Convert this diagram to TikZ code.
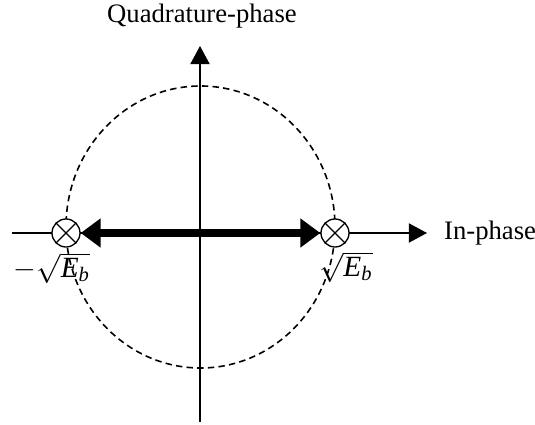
\documentclass[tikz,border=0pt]{standalone}
\usepackage{amsmath}
\usepackage{fontspec}
\setmainfont{Liberation Serif}
\usepackage{tikz}
\usetikzlibrary{arrows.meta,positioning}

\begin{document}
\begin{tikzpicture}[x=0.375pt, y=-0.375pt,
    axis/.style={line width=0.5pt, -{Triangle[length=6.8pt, width=7.2pt]}},
    marker/.style={circle, draw, line width=0.5pt, fill=white, minimum size=10.5pt, inner sep=0pt},
    bigarrow/.style={line width=3pt, {Triangle[length=7.5pt, width=10.5pt]}-{Triangle[length=7.5pt, width=10.5pt]}},
    orbit/.style={line width=0.6pt, dash pattern=on 2.4pt off 1.6pt},
    lbl/.style={font=\fontsize{10}{12}\selectfont, inner sep=1pt},
    mathlbl/.style={font=\fontsize{11}{13}\selectfont, inner sep=1pt}
  ]
  \useasboundingbox (0,0) rectangle (535,425);

  % axes
  \coordinate (ybot) at (200,422);
  \coordinate (ytop) at (200,46);
  \coordinate (xleft) at (12,233);
  \coordinate (xtip) at (427,233);
  \draw[axis] (ybot) -- (ytop);
  \draw[axis] (xleft) -- (xtip);

  % constellation circle
  \draw[orbit] (200.5,227) ellipse [x radius=134.5, y radius=141];

  \node[lbl] (qlabel) at (202,16) {Quadrature-phase};
  \node[lbl, anchor=west] (ilabel) at (441,233) {In-phase};

  % signal points
  \node[marker] (neg) at (66,233) {};
  \node[marker] (pos) at (335,233) {};
  \foreach \p in {neg,pos}{
    \draw[line width=0.5pt] (\p.north east) -- (\p.south west);
    \draw[line width=0.5pt] (\p.north west) -- (\p.south east);
  }
  \draw[bigarrow] (neg) -- (pos);

  \node[mathlbl] (neglabel) at (52,268) {$-\sqrt{\textit{E}_{\textit{b}}}$};
  \node[mathlbl] (poslabel) at (346,267) {$\sqrt{\textit{E}_{\textit{b}}}$};
\end{tikzpicture}
\end{document}
